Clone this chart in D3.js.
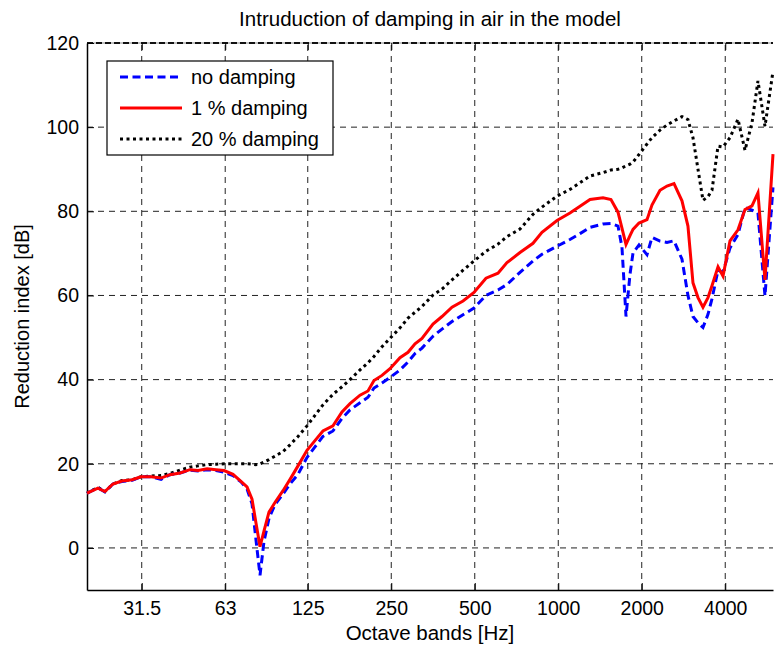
<!DOCTYPE html>
<html>
<head>
<meta charset="utf-8">
<script src="https://cdn.jsdelivr.net/npm/d3@7"></script>
<style>
  body { margin: 0; background: #fff; }
  svg text { font-family: "Liberation Sans", Arial, sans-serif; fill: #000; }
</style>
</head>
<body>
<div id="chart"></div>
<script>
// frequency points [Hz]
var freq = [20, 21.9, 23.2, 24.8, 26.7, 29.1, 31.3, 34.0, 37.0, 39.8, 43.3, 47.0, 50.3, 54.2, 58.4,
    62.4, 67.2, 71.8, 75.5, 78.7, 81.3, 84.1, 86.9, 90.6, 95.2, 101.8, 107.9, 115.3, 124.2, 132.7,
    141.8, 154.1, 166.1, 177.5, 192.9, 206.1, 216.6, 231.5, 247.4, 268.8, 287.3, 304.5, 322.7, 353.5,
    381.0, 413.9, 453.6, 496.8, 548.8, 606.4, 653.3, 728.0, 810.9, 873.6, 989.7, 1102, 1198, 1302,
    1450, 1549, 1642, 1697, 1755, 1814, 1860, 1955, 2089, 2177, 2327, 2466, 2614, 2793, 2935, 3060,
    3190, 3325, 3466, 3583, 3767, 3926, 4161, 4446, 4712, 4994, 5248, 5563, 5946];

var noDamping = [13.0, 14.3, 13.3, 15.2, 15.8, 16.1, 16.9, 16.9, 16.3, 17.4, 17.8, 18.5, 18.3, 18.6, 18.4,
    18.0, 17.2, 15.7, 14.0, 10.5, 2.0, -6.5, 1.5, 7.0, 10.3, 12.8, 15.2, 17.5, 21.5, 24.0,
    26.5, 27.8, 30.8, 32.8, 34.5, 35.8, 38.0, 39.2, 40.5, 42.3, 44.2, 46.2, 47.5, 50.3,
    52.0, 53.8, 55.4, 57.0, 60.0, 61.3, 62.6, 65.5, 68.2, 69.8, 71.7, 73.3, 74.7, 76.2,
    77.0, 77.1, 76.5, 71.5, 55.0, 65.0, 70.1, 72.0, 69.7, 73.8, 72.9, 72.6, 73.0, 68.6, 60.0, 55.0,
    53.5, 52.4, 55.5, 59.2, 66.0, 65.5, 71.3, 74.5, 80.9, 80.3, 79.6, 59.9, 85.7];

var damping1 = [13.0, 14.2, 13.4, 15.2, 15.9, 16.2, 16.9, 16.9, 16.6, 17.4, 17.8, 18.6, 18.4, 18.8, 18.6,
    18.4, 17.5, 15.8, 14.5, 11.6, 6.0, 0.3, 4.0, 8.5, 10.8, 13.6, 16.3, 19.5, 23.2, 25.5,
    27.8, 29.0, 32.3, 34.3, 36.3, 37.3, 39.8, 41.0, 42.6, 45.2, 46.5, 48.5, 49.8, 53.2,
    55.0, 57.2, 58.7, 60.7, 64.1, 65.3, 67.8, 70.2, 72.4, 75.0, 77.8, 79.6, 81.2, 82.8,
    83.2, 82.8, 79.8, 76.0, 72.1, 74.2, 75.7, 77.2, 78.0, 81.5, 85.0, 86.0, 86.6, 82.5, 76.5, 63.0,
    59.5, 57.2, 59.5, 62.3, 66.8, 64.6, 73.0, 75.6, 80.4, 81.3, 84.4, 63.7, 93.6];

var damping20 = [13.0, 14.4, 13.4, 15.2, 16.0, 16.2, 16.9, 17.1, 17.2, 17.7, 18.5, 19.2, 19.5, 19.8, 19.9,
    20.0, 20.0, 20.0, 20.0, 19.9, 19.8, 20.0, 20.4, 21.0, 21.8, 22.9, 24.5, 26.5, 29.0, 31.5,
    34.0, 36.5, 38.3, 40.0, 42.3, 44.0, 45.5, 47.8, 49.8, 52.3, 54.6, 56.0, 57.4, 60.1,
    61.5, 63.7, 66.0, 68.2, 70.5, 72.2, 74.0, 75.8, 79.3, 81.0, 83.6, 85.2, 86.8, 88.4,
    89.2, 89.8, 90.0, 90.3, 90.8, 91.2, 91.7, 93.5, 96.0, 97.5, 99.3, 100.5, 101.5, 102.5, 101.8, 97.5,
    90.0, 82.6, 83.5, 85.0, 95.5, 95.3, 97.5, 101.9, 94.5, 101.0, 111.0, 100.2, 113.3];

var xTicks = [31.5, 63, 125, 250, 500, 1000, 2000, 4000];
var xTickLabels = ["31.5", "63", "125", "250", "500", "1000", "2000", "4000"];
var yTicks = [0, 20, 40, 60, 80, 100, 120];

var seriesNames = ["no damping", "1 % damping", "20 % damping"];

var width = 775, height = 648;
var margin = { top: 43, right: 2, bottom: 58, left: 87 };

var x = d3.scaleLog()
    .domain([20, 5946])
    .range([margin.left, width - margin.right]);

var y = d3.scaleLinear()
    .domain([-10, 120])
    .range([height - margin.bottom, margin.top]);

var svg = d3.select("#chart").append("svg")
    .attr("width", width)
    .attr("height", height);

// grid
var grid = svg.append("g");
grid.selectAll("line.gx")
    .data(xTicks)
    .enter().append("line")
    .attr("x1", d => x(d)).attr("x2", d => x(d))
    .attr("y1", y(-10)).attr("y2", y(120))
    .attr("stroke", "#222")
    .attr("stroke-width", 1)
    .attr("stroke-dasharray", "6,5");

grid.selectAll("line.gy")
    .data(yTicks.filter(d => d < 120))
    .enter().append("line")
    .attr("x1", x(20)).attr("x2", x(5946))
    .attr("y1", d => y(d)).attr("y2", d => y(d))
    .attr("stroke", "#222")
    .attr("stroke-width", 1)
    .attr("stroke-dasharray", "6,5");

// top edge: light solid with dashed grid over it
svg.append("line")
    .attr("x1", x(20)).attr("x2", x(5946))
    .attr("y1", y(120)).attr("y2", y(120))
    .attr("stroke", "#888").attr("stroke-width", 1);
svg.append("line")
    .attr("x1", x(20)).attr("x2", x(5946))
    .attr("y1", y(120)).attr("y2", y(120))
    .attr("stroke", "#111").attr("stroke-width", 2)
    .attr("stroke-dasharray", "6,3");

// axes
var xAxis = d3.axisBottom(x)
    .tickValues(xTicks)
    .tickFormat((d, i) => xTickLabels[i])
    .tickSizeInner(-7)
    .tickSizeOuter(0)
    .tickPadding(11);

var gx = svg.append("g")
    .attr("transform", `translate(0,${y(-10)})`)
    .call(xAxis);
gx.select(".domain").attr("stroke", "#000").attr("stroke-width", 1.5);
gx.selectAll("text").style("font-size", "19.5px");

var xAxisTop = d3.axisTop(x)
    .tickValues(xTicks)
    .tickFormat("")
    .tickSizeInner(-7)
    .tickSizeOuter(0);
var gxt = svg.append("g")
    .attr("transform", `translate(0,${y(120)})`)
    .call(xAxisTop);
gxt.select(".domain").remove();

var yAxis = d3.axisLeft(y)
    .tickValues(yTicks)
    .tickSizeInner(-7)
    .tickSizeOuter(0)
    .tickPadding(8);

var gy = svg.append("g")
    .attr("transform", `translate(${x(20)},0)`)
    .call(yAxis);
gy.select(".domain").attr("stroke", "#000").attr("stroke-width", 1.5);
gy.selectAll("text").style("font-size", "19.5px");

// lines
var line = d3.line()
    .x((d, i) => x(freq[i]))
    .y(d => y(d));

var plot = svg.append("g");

plot.append("path")
    .datum(damping20)
    .attr("fill", "none")
    .attr("stroke", "#000")
    .attr("stroke-width", 3)
    .attr("stroke-dasharray", "3,3.5")
    .attr("d", line);

plot.append("path")
    .datum(noDamping)
    .attr("fill", "none")
    .attr("stroke", "#0000ff")
    .attr("stroke-width", 3)
    .attr("stroke-dasharray", "8,4.5")
    .attr("d", line);

plot.append("path")
    .datum(damping1)
    .attr("fill", "none")
    .attr("stroke", "#ff0000")
    .attr("stroke-width", 3)
    .attr("d", line);

// title and labels
svg.append("text")
    .attr("x", (x(20) + x(5946)) / 2)
    .attr("y", 26)
    .attr("text-anchor", "middle")
    .style("font-size", "20.5px")
    .text("Intruduction of damping in air in the model");

svg.append("text")
    .attr("x", (x(20) + x(5946)) / 2)
    .attr("y", 640)
    .attr("text-anchor", "middle")
    .style("font-size", "20.5px")
    .text("Octave bands [Hz]");

svg.append("text")
    .attr("transform", `translate(29,${(y(-10) + y(120)) / 2}) rotate(-90)`)
    .attr("text-anchor", "middle")
    .style("font-size", "20px")
    .text("Reduction index [dB]");

// legend
var legend = svg.append("g").attr("transform", "translate(107,61)");
legend.append("rect")
    .attr("width", 226).attr("height", 94)
    .attr("fill", "#fff")
    .attr("stroke", "#000")
    .attr("stroke-width", 1.2);

var legendStyles = [
    { color: "#0000ff", dash: "8,4.5" },
    { color: "#ff0000", dash: null },
    { color: "#000", dash: "3,3.5" }
];

var items = legend.selectAll("g.item")
    .data(seriesNames)
    .enter().append("g")
    .attr("transform", (d, i) => `translate(0,${16 + i * 31})`);

items.append("line")
    .attr("x1", 13).attr("x2", 75)
    .attr("stroke", (d, i) => legendStyles[i].color)
    .attr("stroke-width", 3)
    .attr("stroke-dasharray", (d, i) => legendStyles[i].dash);

items.append("text")
    .attr("x", 84)
    .attr("dy", "0.35em")
    .style("font-size", "20px")
    .text(d => d);
</script>
</body>
</html>
